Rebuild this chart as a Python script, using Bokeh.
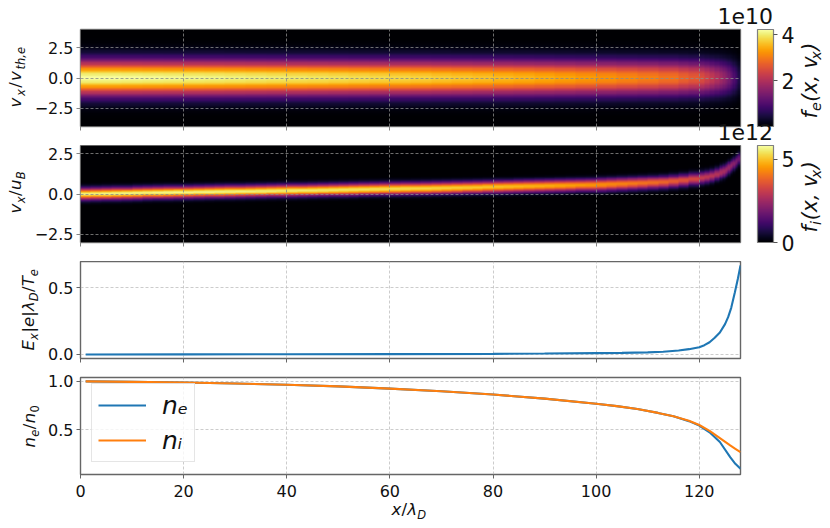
from bokeh.plotting import figure
from bokeh.models import ColorBar, CustomLabelingPolicy, FixedTicker, Label, Legend, LegendItem, LinearColorMapper
from bokeh.layouts import column
from bokeh.palettes import Inferno256
from bokeh.embed import file_html
from bokeh.resources import INLINE
import numpy as np

FONT = "DejaVu Sans"

# electrons, x stations (left edge of each heatmap column), peak in units of 1e10, width in v_th,e
e_x = [0, 4, 8, 12, 16, 20, 24, 28, 32, 36,
       40, 44, 48, 52, 56, 60, 64, 68, 72, 76,
       80, 84, 88, 92, 96, 100, 104, 108, 112, 116,
       118, 120, 121, 122, 123,
       124, 124.5, 125, 125.5, 126, 126.5, 127, 127.5]
e_peak = [4.2, 4.2, 4.18, 4.16, 4.14, 4.12, 4.1, 4.07, 4.04, 4.01,
          3.98, 3.95, 3.92, 3.88, 3.85, 3.82, 3.78, 3.73, 3.69, 3.64,
          3.58, 3.52, 3.46, 3.39, 3.31, 3.23, 3.14, 3.05, 2.94, 2.78,
          2.66, 2.52, 2.36, 2.19, 2.02,
          1.86, 1.72, 1.58, 1.42, 1.22, 1.0, 0.8, 0.55]
e_width = [1.0, 1.0, 1.0, 1.0, 1.0, 1.0, 1.0, 1.0, 1.0, 1.0,
           1.0, 1.0, 1.0, 1.0, 1.0, 1.0, 1.0, 1.0, 1.0, 1.0,
           1.0, 1.0, 1.0, 1.0, 1.0, 1.0, 1.0, 1.0, 1.0, 1.0,
           1.0, 1.0, 1.0, 1.0, 1.0,
           1.0, 1.0, 1.0, 1.0, 1.0, 1.0, 1.0, 1.0]
e_drift = [0] * len(e_x)

# ions, x stations, peak in units of 1e12, drift and width in u_B
i_x = [0, 2, 4, 6, 8, 10, 12, 14, 16, 18,
       20, 22, 24, 26, 28, 30, 32, 34, 36, 38,
       40, 42, 44, 46, 48, 50, 52, 54, 56, 58,
       60, 62, 64, 66, 68, 70, 72, 74, 76, 78,
       80, 82, 84, 86, 88, 90, 92, 94, 96, 98,
       100, 102, 104, 106, 108, 110, 112, 114, 116,
       118, 120, 121, 122, 123,
       124, 124.5, 125, 125.5, 126, 126.5, 127, 127.5]
i_peak = [5.7, 5.7, 5.7, 5.7, 5.7, 5.7, 5.7, 5.7, 5.7, 5.69,
          5.68, 5.67, 5.66, 5.65, 5.63, 5.62, 5.6, 5.59, 5.58, 5.56,
          5.55, 5.53, 5.52, 5.5, 5.48, 5.46, 5.44, 5.42, 5.4, 5.38,
          5.35, 5.33, 5.3, 5.26, 5.22, 5.18, 5.15, 5.11, 5.08, 5.04,
          5.0, 4.95, 4.9, 4.85, 4.8, 4.75, 4.7, 4.62, 4.55, 4.48,
          4.4, 4.32, 4.25, 4.15, 4.05, 3.95, 3.85, 3.7, 3.55,
          3.35, 3.1, 3.0, 2.9, 2.8,
          2.7, 2.6, 2.5, 2.4, 2.3, 2.15, 2.0, 1.8]
i_drift = [0, .01, .02, .03, .04, .055, .07, .08, .09, .10,
           .11, .12, .13, .14, .15, .16, .17, .18, .19, .20,
           .21, .22, .23, .24, .25, .26, .27, .285, .30, .31,
           .32, .33, .34, .35, .36, .37, .385, .40, .41, .425,
           .44, .45, .465, .48, .49, .50, .515, .53, .545, .555,
           .57, .595, .62, .645, .67, .70, .73, .78, .84,
           .92, 1.0, 1.05, 1.12, 1.22,
           1.33, 1.40, 1.5, 1.63, 1.76, 1.88, 2.02, 2.17]
i_width = [.24, .24, .24, .24, .24, .24, .24, .24, .24, .24,
           .24, .24, .24, .24, .24, .24, .24, .24, .24, .24,
           .24, .24, .24, .24, .24, .24, .24, .24, .24, .24,
           .24, .24, .24, .24, .24, .24, .24, .24, .24, .24,
           .24, .24, .24, .24, .24, .24, .24, .24, .24, .24,
           .25, .25, .25, .25, .25, .25, .25, .25, .25,
           .25, .25, .25, .25, .25,
           .26, .26, .26, .26, .26, .26, .26, .26]

# cross-section of a band, relative to its peak, at 0.1 width steps from the centre
band_shape = [1, .995, .98, .956, .923, .882, .835, .783, .726, .667,
              .607, .546, .487, .43, .375, .325, .278, .236, .198, .164,
              .135, .11, .089, .071, .056, .044, .034, .026, .02, .015,
              .011, .008, .006, .004, .003, .002, .0015, .001, .0007, .0005, .0003, 0]

# field and density profiles
ex_x = [1, 20, 40, 60, 80, 90, 100, 105, 110, 113, 116, 118, 120, 121, 122, 123, 124, 125, 125.6, 126.2, 126.9, 127.5, 128]
ex_y = [0, .001, .002, .003, .005, .007, .01, .012, .016, .021, .03, .04, .055, .07, .092, .125, .165, .228, .28, .35, .465, .57, .667]
n_x = [1, 10, 20, 30, 40, 50, 60, 70, 80, 90, 100, 104, 108, 112, 115, 118, 120, 122, 124, 126, 127, 128]
ne_y = [1, .995, .988, .978, .965, .948, .925, .898, .865, .822, .77, .745, .715, .675, .64, .59, .545, .475, .375, .22, .15, .1]
ni_y = [1, .995, .988, .978, .965, .948, .925, .898, .865, .822, .77, .745, .715, .675, .64, .595, .55, .49, .415, .34, .305, .27]

x_ticks = [0, 20, 40, 60, 80, 100, 120]


def band_image(stations, peak, drift, width, v_max):
    # nearest lookup of the read stations on the image grid, no fitted curve
    xc = np.arange(512) * 0.25 + 0.125
    vc = (np.arange(200) + 0.5) / 200 * 2 * v_max - v_max
    col = np.searchsorted(stations, xc, side="right") - 1
    img = np.zeros((200, 512))
    shape = np.array(band_shape)
    for j, c in enumerate(col):
        k = np.rint(np.abs(vc - drift[c]) / width[c] / 0.1).astype(int)
        img[:, j] = shape[np.minimum(k, len(shape) - 1)] * peak[c]
    return img


def make_panel(y_range, y_ticks, y_names, top, bottom, spine, grid_color, grid_on_top=False):
    p = figure(frame_width=660, frame_height=97, x_range=(0, 128), y_range=y_range,
               min_border_left=80, min_border_right=90, min_border_top=top, min_border_bottom=bottom,
               output_backend="svg", toolbar_location=None)
    p.xaxis.ticker = x_ticks
    p.yaxis.ticker = y_ticks
    p.yaxis.major_label_overrides = y_names
    p.xaxis.major_label_text_font_size = "1px"
    p.xaxis.major_label_policy = CustomLabelingPolicy(code="return")
    for ax in (p.xaxis[0], p.yaxis[0]):
        ax.axis_line_color = None
        ax.major_tick_in = 0
        ax.major_tick_out = 4
        ax.minor_tick_line_color = None
        ax.major_tick_line_color = spine
        ax.major_tick_line_width = 1
        ax.major_label_text_font = FONT
        ax.major_label_text_color = "#111111"
    p.yaxis.major_label_text_font_size = "16px"
    p.yaxis.major_label_standoff = 3
    p.outline_line_color = spine
    p.outline_line_width = 1.4
    p.outline_line_alpha = 1
    p.border_fill_color = None
    for g in (p.xgrid[0], p.ygrid[0]):
        g.grid_line_color = grid_color
        g.grid_line_dash = "3 2"
        g.grid_line_width = 0.8
        if grid_on_top:
            g.level = "overlay"
    return p


def add_bar(p, high, ticks):
    mapper = LinearColorMapper(palette=Inferno256, low=0, high=high)
    bar = ColorBar(color_mapper=mapper, width=16, height=97, margin=0, padding=0, location=(17, 0),
                   ticker=FixedTicker(ticks=ticks), bar_line_color="#808080", bar_line_width=1.2,
                   major_tick_line_color="#555555", major_tick_in=0, major_tick_out=4,
                   minor_tick_line_color=None, major_label_text_font=FONT,
                   major_label_text_font_size="20.5px", major_label_text_color="#111111",
                   label_standoff=4, background_fill_alpha=0)
    p.add_layout(bar, "right")
    return mapper


SPINE_MAP = "#858585"
SPINE_LINE = "#666666"
GRID_MAP = "#8a8a8a"
GRID_LINE = "#bfbfbf"

# electron distribution
p1 = make_panel((-4.04, 4.04), [-2.5, 0, 2.5], {-2.5: "\u22122.5", 0: "0.0", 2.5: "2.5"},
                29, 19, SPINE_MAP, GRID_MAP, True)
m1 = add_bar(p1, 4.22, [2, 4])
p1.image(image=[band_image(e_x, e_peak, e_drift, e_width, 4.04)], x=0, y=-4.04, dw=128, dh=8.08, color_mapper=m1)

# ion distribution
p2 = make_panel((-3.01, 3.01), [-2.5, 0, 2.5], {-2.5: "\u22122.5", 0: "0.0", 2.5: "2.5"},
                0, 19, SPINE_MAP, GRID_MAP, True)
m2 = add_bar(p2, 5.84, [0, 5])
p2.image(image=[band_image(i_x, i_peak, i_drift, i_width, 3.01)], x=0, y=-3.01, dw=128, dh=6.02, color_mapper=m2)

# electric field
p3 = make_panel((-0.03, 0.697), [0, 0.5], {0: "0.0", 0.5: "0.5"}, 0, 13, SPINE_LINE, GRID_LINE)
p3.line(ex_x, ex_y, line_color="#1f77b4", line_width=2.1)

# densities
p4 = make_panel((0.04, 1.04), [0.5, 1.0], {0.5: "0.5", 1.0: "1.0"}, 6, 54, SPINE_LINE, GRID_LINE)
p4.xaxis.major_label_text_font_size = "16px"
p4.xaxis.major_label_policy = p4.yaxis[0].major_label_policy
p4.xaxis.major_label_standoff = 6
r_e = p4.line(n_x, ne_y, line_color="#1f77b4", line_width=2.1)
r_i = p4.line(n_x, ni_y, line_color="#ff7f0e", line_width=2.1)
legend = Legend(items=[LegendItem(label="n\u2091", renderers=[r_e]), LegendItem(label="n\u1d62", renderers=[r_i])],
                location=(11, 12), glyph_width=48, glyph_height=30, label_height=30, spacing=5, padding=6,
                margin=0, label_standoff=16, label_text_font=FONT, label_text_font_style="italic",
                label_text_font_size="25px", label_text_color="#111111", border_line_color="#cccccc",
                background_fill_alpha=0.8)
p4.add_layout(legend, "center")

# labels go on a clear figure over the page, a Label is cut off at the frame of its own figure
over = figure(width=830, height=528, x_range=(0, 830), y_range=(528, 0), x_axis_type=None, y_axis_type=None,
              min_border=0, frame_align=False, output_backend="svg", toolbar_location=None, margin=(-528, 0, 0, 0))
over.grid.visible = False
over.outline_line_color = None
over.background_fill_color = None
over.border_fill_color = None

# a Label's baseline comes out this share of its font size below where it was asked for
BASE = 0.48


def pieces(x, y, parts, vertical=True, size=16.5):
    # math labels set piece by piece so that subscripts stay real text
    for text, style, rel, shift, adv in parts:
        px = size * rel
        kw = dict(text=text, text_font=FONT, text_font_style=style, text_font_size=f"{px:.1f}px",
                  text_color="#111111", text_baseline="alphabetic", text_align="left")
        if vertical:
            over.add_layout(Label(x=x + shift - BASE * px, y=y, angle=90, angle_units="deg", **kw))
            y -= adv * size
        else:
            over.add_layout(Label(x=x, y=y + shift - BASE * px, **kw))
            x += adv * size


pieces(23, 107, [("v", "italic", 1, 0, .7), ("x", "italic", .7, 3, .5), ("/", "normal", 1, 0, .4),
                 ("v", "italic", 1, 0, .7), ("th,e", "italic", .7, 3, 1.4)])
pieces(23, 213, [("v", "italic", 1, 0, .62), ("x", "italic", .7, 3, .44), ("/", "normal", 1, 0, .36),
                 ("u", "italic", 1, 0, .65), ("B", "italic", .7, 3, .5)])
pieces(36, 350, [("E", "italic", 1, 0, .63), ("x", "italic", .7, 3, .46), ("|e|", "italic", 1, 0, 1.3),
                 ("\u03bb", "italic", 1, 0, .6), ("D", "italic", .7, 3, .55), ("/", "normal", 1, 0, .36),
                 ("T", "italic", 1, 0, .6), ("e", "italic", .7, 3, .5)])
pieces(37, 447, [("n", "italic", 1, 0, .65), ("e", "italic", .7, 3, .46), ("/", "normal", 1, 0, .36),
                 ("n", "italic", 1, 0, .65), ("0", "normal", .7, 3, .5)])
pieces(391, 517, [("x", "italic", 1, 0, .6), ("/", "normal", 1, 0, .36), ("\u03bb", "italic", 1, 0, .6),
                  ("D", "italic", .7, 3, .55)], vertical=False)
pieces(819, 118, [("f", "italic", 1, 0, .36), ("e", "italic", .7, 3, .46), ("(x, v", "italic", 1, 0, 2.05),
                  ("x", "italic", .7, 3, .44), (")", "italic", 1, 0, .4)], size=20.5)
pieces(819, 232, [("f", "italic", 1, 0, .36), ("i", "italic", .7, 3, .24), ("(x, v", "italic", 1, 0, 2.05),
                  ("x", "italic", .7, 3, .44), (")", "italic", 1, 0, .4)], size=20.5)
for text, y in (("1e10", 26.5), ("1e12", 141.7)):
    over.add_layout(Label(x=717, y=y - BASE * 22, text=text, text_font=FONT, text_font_size="22px",
                          text_color="#111111", text_baseline="alphabetic"))

page = column(p1, p2, p3, p4, over, spacing=0)
open("out.html", "w").write(file_html(page, INLINE))
